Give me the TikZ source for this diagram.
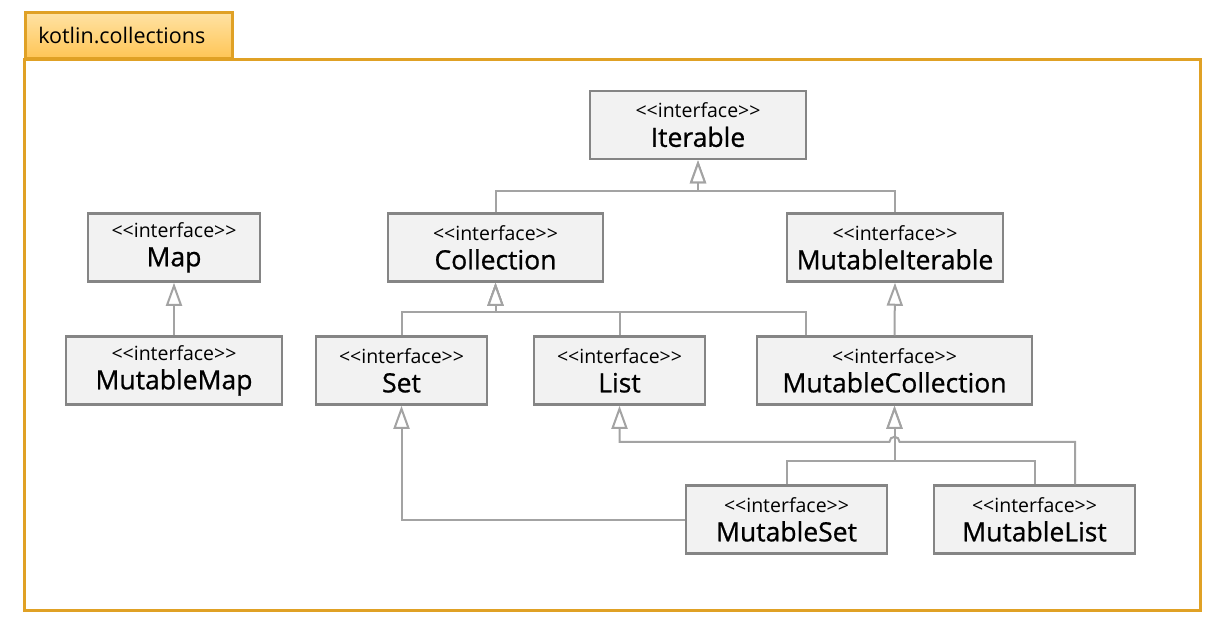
\documentclass[tikz,border=0pt]{standalone}
\usepackage{fontspec}
\setmainfont{Open Sans}
\newfontfamily\namefont[FakeBold=0.8]{Open Sans}
\usetikzlibrary{arrows.meta,calc}
\definecolor{pkgline}{HTML}{E0A125}
\definecolor{tabtop}{HTML}{FFE2A3}
\definecolor{tabbot}{HTML}{FFC555}
\definecolor{boxline}{HTML}{858585}
\definecolor{boxfill}{HTML}{F2F2F2}
\definecolor{linkgray}{HTML}{A3A3A3}
\newcommand{\iface}[1]{{<}{<}interface{>}{>}\\{\namefont\fontsize{26.5}{29}\selectfont #1}}

\begin{document}
\begin{tikzpicture}[x=1pt, y=-1pt,
  iface/.style={draw=boxline, line width=2.5pt, fill=boxfill, minimum height=68pt, inner sep=0pt, align=center, font=\fontsize{19.5}{29}\selectfont},
  inh/.style={draw=linkgray, line width=2pt, -{Triangle[open, width=16pt, length=23pt, fill=white]}}]
\useasboundingbox (0,0) rectangle (1222,631);
% package frame
\draw[pkgline, line width=3pt] (24,60) rectangle (1200,610);
\node (pkg) [draw=pkgline, line width=2.5pt, top color=tabtop, bottom color=tabbot, minimum height=46pt, text width=181pt, inner xsep=13pt, inner ysep=0pt, align=left, anchor=south west, font=\fontsize{21.5}{24}\selectfont] at (24,60) {kotlin.collections};
% interfaces
\node (iterable) [iface, minimum width=216pt] at (698,125) {\iface{Iterable}};
\node (collection) [iface, minimum width=215pt] at (495.5,247.5) {\iface{Collection}};
\node (mutiter) [iface, minimum width=216pt] at (895,247.5) {\iface{MutableIterable}};
\node (map) [iface, minimum width=172pt] at (174,247.5) {\iface{Map}};
\node (mutmap) [iface, minimum width=216pt] at (174,370.5) {\iface{MutableMap}};
\node (set) [iface, minimum width=171pt] at (401.5,370.5) {\iface{Set}};
\node (list) [iface, minimum width=171pt] at (619.5,370.5) {\iface{List}};
\node (mutcoll) [iface, minimum width=275pt] at (894.5,370.5) {\iface{MutableCollection}};
\node (mutset) [iface, minimum width=201pt] at (786.5,519.5) {\iface{MutableSet}};
\node (mutlist) [iface, minimum width=201pt] at (1034.5,519.5) {\iface{MutableList}};
% generalizations
\draw[inh] (collection.north) -- ++(0,-21) -| (iterable.south);
\draw[inh] (mutiter.north) -- ++(0,-21) -| (iterable.south);
\draw[inh] (mutmap.north) -- (map.south);
\draw[inh] (set.north) -- ++(0,-23) -| (collection.south);
\draw[inh] (list.north) -- ++(0,-23) -| (collection.south);
\draw[inh] ($(mutcoll.north)+(-88.5,0)$) -- ++(0,-23) -| (collection.south);
\draw[inh] (mutcoll.north) -- (mutiter.south);
\draw[inh] (mutset.west) -| (set.south);
\draw[inh] (mutset.north) -- ++(0,-23) -| (mutcoll.south);
\draw[inh] (mutlist.north) -- ++(0,-23) -| (mutcoll.south);
\draw[inh] ($(mutlist.north)+(40.5,0)$) |- ($(mutcoll.south)+(5,36)$) arc[start angle=0, end angle=-180, radius=5] -| (list.south);
\end{tikzpicture}
\end{document}
